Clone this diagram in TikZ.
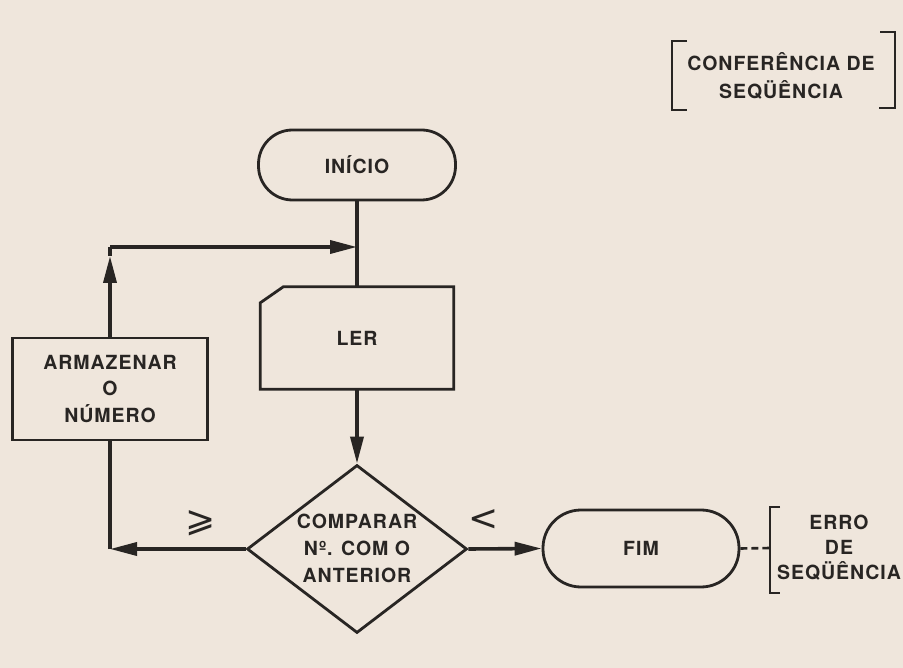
\documentclass[tikz,border=0pt]{standalone}
\usepackage{fontspec}
\setmainfont[LetterSpace=5,BoldFont={TeX Gyre Heros Bold}]{TeX Gyre Heros}
\newfontfamily\relfont{DejaVu Sans}
\usetikzlibrary{arrows.meta,shapes.geometric}
\definecolor{paper}{RGB}{239,230,220}
\definecolor{ink}{RGB}{40,37,35}
\tikzset{
  shapeline/.style={draw=ink, line width=2.8pt},
  terminal/.style={shapeline, rectangle, rounded corners=34pt, inner sep=0pt},
  procbox/.style={shapeline, rectangle, inner sep=0pt},
  lbl/.style={text=ink, font=\fontsize{19.5}{26.5}\selectfont\bfseries, align=center, inner sep=0pt},
  rel/.style={text=ink, font=\relfont\fontsize{36}{36}\selectfont, inner sep=0pt},
  conn/.style={draw=ink, line width=3.6pt},
  arr/.style={conn, -{Triangle[length=27pt,width=13pt]}},
  brk/.style={draw=ink, line width=2.6pt},
}
\begin{document}
\begin{tikzpicture}[x=1pt,y=-1pt]
\fill[paper] (0,0) rectangle (903,668);
\useasboundingbox (0,0) rectangle (903,668);

% nodes
\node[terminal, minimum width=197pt, minimum height=70pt] (ini) at (357,165) {};
\node[lbl] at (ini) {INÍCIO};

\node[minimum width=193pt, minimum height=102pt, inner sep=0pt] (ler) at (357,338) {};
\draw[shapeline] (ler.south west) -- ([yshift=-16pt]ler.north west) -- ([xshift=23pt]ler.north west) -- (ler.north east) -- (ler.south east) -- cycle;
\node[lbl] at (ler) {LER};

\node[procbox, minimum width=195pt, minimum height=102pt] (arm) at (110,389) {};
\node[lbl] at (arm) {ARMAZENAR\\O\\NÚMERO};

\node[shapeline, diamond, minimum width=220pt, minimum height=168pt, inner sep=0pt] (cmp) at (357,549) {};
\node[lbl, font=\fontsize{19.5}{27}\selectfont\bfseries] at ([yshift=1pt]cmp) {COMPARAR\\Nº. COM O\\ANTERIOR};

\node[terminal, minimum width=196pt, minimum height=77pt, rounded corners=38pt] (fim) at (641,548.5) {};
\node[lbl] at (fim) {FIM};

% coordinates
\coordinate (join) at (357,247);
\coordinate (c1) at (110,247);
\coordinate (tipup) at (110,256);
\coordinate (c2) at (110,549);
\coordinate (brkpt) at (770,548);

% connectors
\draw[conn] (ini.south) -- (ler.north);
\draw[arr] (ler.south) -- (cmp.north);
\draw[arr] (cmp.west) -- (c2);
\draw[conn] (c2) -- (arm.south);
\draw[arr] (arm.north) -- (tipup);
\draw[conn] (tipup) -- (c1);
\draw[arr] (c1) -- (join);
\draw[arr] (cmp.east) -- (fim.west);
\draw[brk, dash pattern=on 7pt off 4pt] (fim.east) -- (brkpt);

% condition labels
\node[rel] (ge) at (201,523) {⩾};
\node[rel] (lt) at (484,520) {<};

% annotation bracket
\draw[brk] (780,507) -- (770,507) -- (770,593) -- (780,593);
\node[lbl, font=\fontsize{19.5}{25}\selectfont\bfseries] (err) at (839,548) {ERRO\\DE\\SEQÜÊNCIA};

% title bracket
\draw[brk] (687,41) -- (672,41) -- (672,110) -- (687,110);
\draw[brk] (880,32) -- (895,32) -- (895,108) -- (879,108);
\node[lbl, font=\fontsize{19.5}{28}\selectfont\bfseries] (title) at (781,76) {CONFERÊNCIA DE\\SEQÜÊNCIA};
\end{tikzpicture}
\end{document}
